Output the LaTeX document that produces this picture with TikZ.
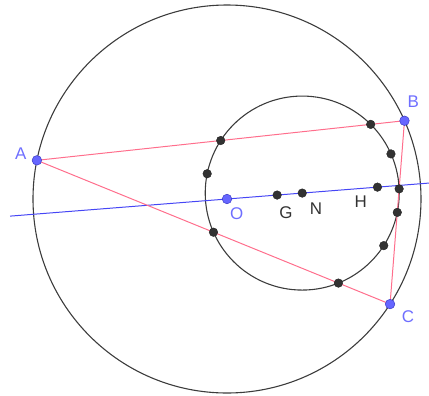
\documentclass[tikz,border=0pt]{standalone}
\usepackage{fontspec}
\setmainfont{Liberation Sans}
\usetikzlibrary{calc}
\definecolor{ptblue}{RGB}{102,102,255}
\definecolor{ptblueedge}{RGB}{60,60,200}
\definecolor{lblblue}{RGB}{110,110,255}
\definecolor{eulerblue}{RGB}{70,70,245}
\definecolor{sidered}{RGB}{255,110,140}
\definecolor{circgray}{RGB}{60,60,60}
\definecolor{dotgray}{RGB}{50,50,50}
\tikzset{
  circ/.style={draw=circgray, line width=1.1pt},
  side/.style={draw=sidered, line width=1.0pt},
  euler/.style={draw=eulerblue, line width=1.0pt},
  bdot/.style={fill=dotgray, draw=dotgray!70!black, line width=0.4pt},
  pdot/.style={fill=ptblue, draw=ptblueedge, line width=0.5pt},
  blbl/.style={text=lblblue, font=\fontsize{17}{17}\selectfont, inner sep=0pt},
  klbl/.style={text=dotgray, font=\fontsize{17}{17}\selectfont, inner sep=0pt}
}
\begin{document}
\begin{tikzpicture}[x=1bp,y=-1bp]
\useasboundingbox (0,0) rectangle (429,396);
\def\R{194}
\coordinate (O) at (227,199);
\coordinate (A) at ($(O)+(191.5:\R)$);
\coordinate (B) at ($(O)+(336.2:\R)$);
\coordinate (C) at ($(O)+(32.8:\R)$);
\coordinate (H) at ($(A)+(B)+(C)-2*(O)$);
\coordinate (N) at ($(O)!0.5!(H)$);
\coordinate (G) at ($(O)!1/3!(H)$);
\coordinate (Mab) at ($(A)!0.5!(B)$);
\coordinate (Mbc) at ($(B)!0.5!(C)$);
\coordinate (Mca) at ($(C)!0.5!(A)$);
\coordinate (Ha) at ($(B)!(A)!(C)$);
\coordinate (Hb) at ($(C)!(B)!(A)$);
\coordinate (Hc) at ($(A)!(C)!(B)$);
\coordinate (Ea) at ($(A)!0.5!(H)$);
\coordinate (Eb) at ($(B)!0.5!(H)$);
\coordinate (Ec) at ($(C)!0.5!(H)$);
\coordinate (L1) at ($(O)!-1.442!(H)$);
\coordinate (L2) at ($(O)!1.342!(H)$);
% circles
\draw[circ] (O) circle (\R);
\draw[circ] (N) circle (\R/2);
% Euler line
\draw[euler] (L1) -- (L2);
% triangle
\draw[side] (A) -- (B) -- (C) -- cycle;
% black points
\foreach \p in {Mab,Mbc,Mca,Ha,Hb,Hc,Ea,Eb,Ec,G,N,H}
  \fill[bdot] (\p) circle (4.3);
% blue points
\foreach \p in {A,B,C,O}
  \fill[pdot] (\p) circle (4.8);
% labels
\node[blbl] (lA) at (20.7,154) {A};
\node[blbl] (lB) at (413.3,101.7) {B};
\node[blbl] (lC) at (408,316.7) {C};
\node[blbl] (lO) at (236.7,213.3) {O};
\node[klbl] (lG) at (286,213) {G};
\node[klbl] (lN) at (316,209) {N};
\node[klbl] (lH) at (360.7,201.7) {H};
\end{tikzpicture}
\end{document}
